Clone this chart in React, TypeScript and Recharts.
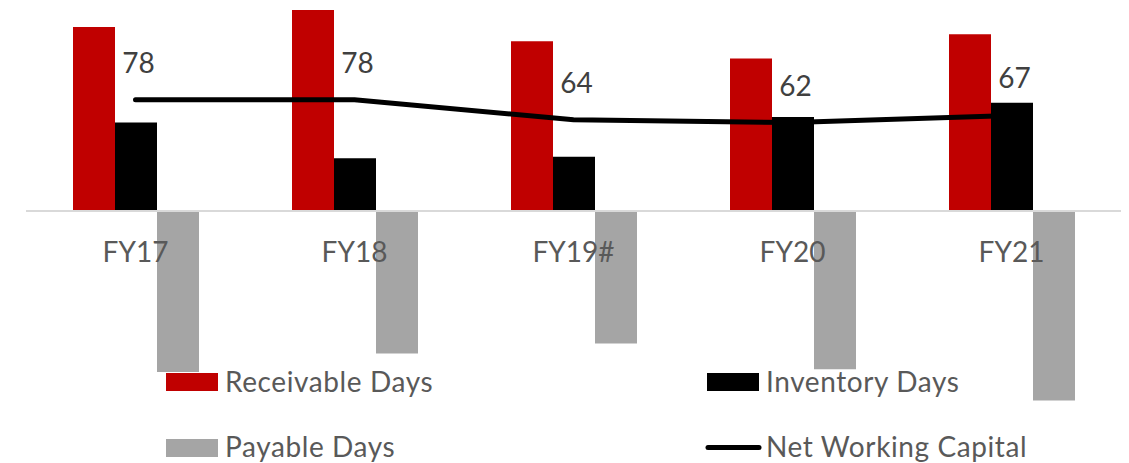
import { Bar, ComposedChart, LabelList, Line, ReferenceDot, ReferenceLine, XAxis, YAxis } from "recharts"

const years = ["FY17", "FY18", "FY19#", "FY20", "FY21"]
const receivableDays = [129, 141, 119, 107, 124]
const inventoryDays = [62, 37, 38, 66, 76]
const payableDays = [-113, -100, -93, -111, -133]
const netWorkingCapital = [78, 78, 64, 62, 67]

const rows = years.map((year, i) => ({
  year,
  receivable: receivableDays[i],
  inventory: inventoryDays[i],
  payable: payableDays[i],
  nwc: netWorkingCapital[i],
}))

const FONT = "Lato, 'Open Sans', sans-serif"
const TEXT = "#595959"

function LegendOverlay() {
  return (
    <svg width={1129} height={463} style={{ position: "absolute", left: 0, top: 0, pointerEvents: "none" }}>
      <g fontFamily={FONT} fontSize={28} letterSpacing={0.6} fill={TEXT}>
        <rect x={166} y={373} width={52} height={18} fill="#c00000" />
        <text x={225} y={392}>Receivable Days</text>
        <rect x={707} y={373} width={52} height={18} fill="#000000" />
        <text x={766} y={392}>Inventory Days</text>
        <rect x={166} y={439} width={52} height={18} fill="#a5a5a5" />
        <text x={225} y={457}>Payable Days</text>
        <line x1={708} y1={447.5} x2={759} y2={447.5} stroke="#000" strokeWidth={5} strokeLinecap="round" />
        <text x={766} y={457}>Net Working Capital</text>
      </g>
    </svg>
  )
}

export default function App() {
  return (
    <div style={{ position: "absolute", left: 0, top: 0, width: 1129, height: 463, fontFamily: FONT, background: "#fff" }}>
      <ComposedChart
        width={1129}
        height={463}
        data={rows}
        margin={{ top: 0, right: 8, bottom: 41, left: 26 }}
        barGap={0}
      >
        <XAxis dataKey="year" hide />
        <YAxis hide domain={[-148, 148]} />
        <ReferenceLine y={0} stroke="#d9d9d9" strokeWidth={2} />
        <Bar dataKey="receivable" fill="#c00000" barSize={42} isAnimationActive={false} />
        <Bar dataKey="inventory" fill="#000000" barSize={42} isAnimationActive={false} />
        <Bar dataKey="payable" fill="#a5a5a5" barSize={42} isAnimationActive={false} />
        <Line
          dataKey="nwc"
          type="linear"
          stroke="#000"
          strokeWidth={5}
          strokeLinecap="round"
          dot={false}
          activeDot={false}
          isAnimationActive={false}
        >
          <LabelList dataKey="nwc" position="top" offset={27} dx={3} fill="#404040" fontSize={28} />
        </Line>
        {years.map((y) => (
          <ReferenceDot
            key={y}
            x={y}
            y={0}
            r={0}
            fill="none"
            stroke="none"
            label={{ value: y, position: "bottom", offset: 31, fill: TEXT, fontSize: 28 }}
          />
        ))}
      </ComposedChart>
      <LegendOverlay />
    </div>
  )
}
